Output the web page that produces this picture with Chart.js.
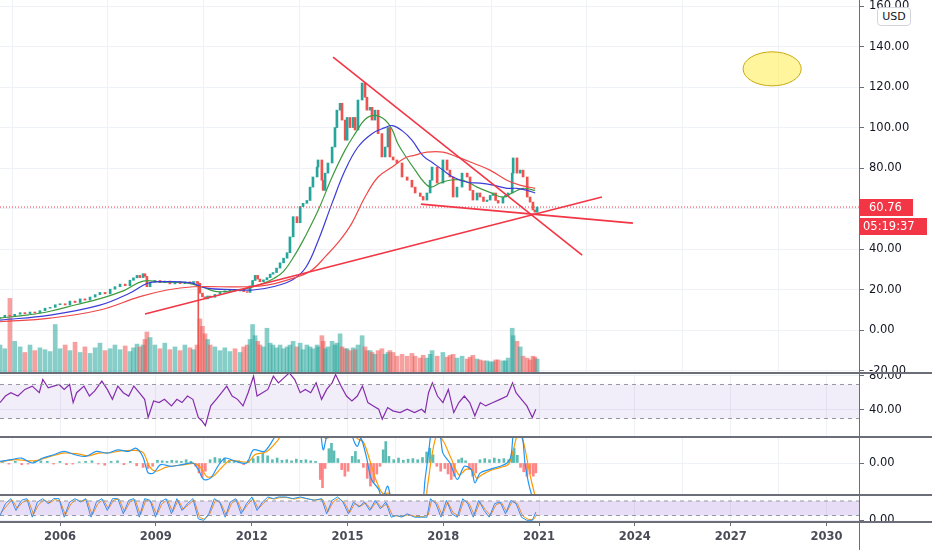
<!DOCTYPE html>
<html>
<head>
<meta charset="utf-8">
<script src="https://cdn.jsdelivr.net/npm/chart.js@4.4.1/dist/chart.umd.min.js"></script>
<style>
  body { margin: 0; background: #fff; }
  #wrap { position: relative; width: 932px; height: 550px; overflow: hidden; font-family: "DejaVu Sans", sans-serif; }
  canvas { position: absolute; left: 0; }
  .sep { position: absolute; left: 0; width: 932px; height: 2px; background: #6b6e78; }
  #vline { position: absolute; left: 859px; top: 0; width: 1px; height: 550px; background: #6b6e78; }
  #usd { position: absolute; left: 877px; top: 7px; width: 32px; height: 17px; border: 1px solid #d1d4dc; border-radius: 4px;
         background: #fff; font-size: 11px; color: #131722; text-align: center; line-height: 17px; }
</style>
</head>
<body>
<div id="wrap">
  <canvas id="main" width="932" height="373" style="top:0"></canvas>
  <canvas id="rsi" width="932" height="64" style="top:373px"></canvas>
  <canvas id="macd" width="932" height="58" style="top:437px"></canvas>
  <canvas id="stoch" width="932" height="27" style="top:495px"></canvas>
  <canvas id="axis" width="932" height="30" style="top:521px"></canvas>
  <div class="sep" style="top:372px"></div>
  <div class="sep" style="top:436px"></div>
  <div class="sep" style="top:494px"></div>
  <div class="sep" style="top:521px"></div>
  <div id="vline"></div>
  <div id="usd">USD</div>
</div>
<script>
// === DATOS ===
const yearTicks = [2006, 2009, 2012, 2015, 2018, 2021, 2024, 2027, 2030];
const priceTicks = [-20, 0, 20, 40, 60, 80, 100, 120, 140, 160];

// cierre aproximado [año, precio]
const closes = [
  [2004.12,6.2],[2004.27,7.3],[2004.43,7.0],[2004.58,7.8],[2004.75,8.6],[2004.90,8.1],[2005.06,8.9],[2005.21,8.4],[2005.37,9.6],[2005.53,10.8],
  [2005.69,11.2],[2005.85,12.5],[2006.00,13.0],[2006.16,12.4],[2006.31,14.3],[2006.47,13.6],[2006.63,15.4],[2006.78,14.8],[2006.94,16.3],[2007.10,17.5],
  [2007.25,18.6],[2007.41,17.9],[2007.57,20.2],[2007.72,21.4],[2007.88,22.7],[2008.04,21.9],[2008.19,24.6],[2008.30,25.8],[2008.41,27.0],[2008.50,25.9],
  [2008.60,27.8],[2008.66,26.5],[2008.72,21.4],[2008.82,23.6],[2008.97,24.5],[2009.13,23.4],[2009.28,24.2],[2009.44,22.8],[2009.60,23.9],[2009.76,22.9],
  [2009.91,23.8],[2010.07,23.2],[2010.18,24.0],[2010.29,23.1],[2010.38,18.2],[2010.46,16.4],[2010.54,15.4],[2010.62,16.8],[2010.70,16.2],[2010.85,17.6],
  [2011.01,18.7],[2011.16,19.4],[2011.32,20.1],[2011.48,19.3],[2011.64,20.2],[2011.75,19.0],[2011.86,18.6],[2011.95,21.8],[2012.03,24.5],[2012.11,27.0],
  [2012.19,25.2],[2012.26,23.9],[2012.37,24.8],[2012.48,25.9],[2012.58,27.6],[2012.67,28.4],[2012.78,30.6],[2012.89,33.2],[2013.00,35.5],[2013.11,38.2],
  [2013.20,46.0],[2013.30,56.0],[2013.42,53.0],[2013.52,61.0],[2013.61,62.6],[2013.73,64.0],[2013.83,70.6],[2013.92,75.6],[2014.05,80.5],[2014.08,84.0],
  [2014.20,74.0],[2014.24,69.0],[2014.30,77.5],[2014.39,82.5],[2014.52,90.4],[2014.61,100.0],[2014.67,108.6],[2014.77,112.0],[2014.83,103.7],[2014.93,93.8],
  [2014.99,105.0],[2015.08,100.0],[2015.18,105.0],[2015.24,98.8],[2015.33,113.6],[2015.46,122.0],[2015.55,115.0],[2015.61,108.6],[2015.71,110.0],[2015.77,103.7],
  [2015.86,108.6],[2015.96,97.0],[2016.08,85.5],[2016.18,90.4],[2016.27,100.0],[2016.33,85.5],[2016.43,84.0],[2016.55,82.5],[2016.71,75.6],[2016.87,74.0],
  [2017.02,70.6],[2017.12,67.7],[2017.28,66.0],[2017.37,64.2],[2017.49,67.7],[2017.59,74.0],[2017.65,80.5],[2017.81,72.6],[2017.99,84.0],[2018.12,79.0],
  [2018.21,75.6],[2018.31,65.7],[2018.43,70.6],[2018.59,77.5],[2018.75,75.6],[2018.84,69.0],[2018.93,64.2],[2019.06,67.7],[2019.15,65.7],[2019.26,63.5],
  [2019.37,64.2],[2019.47,66.5],[2019.56,67.7],[2019.64,64.0],[2019.72,62.7],[2019.87,65.7],[2019.95,66.5],[2020.03,67.7],[2020.16,77.5],[2020.19,85.0],
  [2020.31,77.5],[2020.41,79.0],[2020.50,75.6],[2020.63,65.7],[2020.72,63.2],[2020.81,59.3],[2020.87,58.2],[2020.94,60.76]
];
// volumen (mismo orden que closes)
const volumes = [
  30,26,80,34,28,22,30,24,27,25,
  23,52,26,30,24,33,22,28,21,27,
  32,24,26,30,25,29,23,27,31,28,
  30,36,44,38,30,26,32,25,28,24,
  30,27,25,30,58,50,42,36,30,28,
  24,27,23,26,22,28,30,36,52,40,
  34,30,28,48,32,30,27,30,26,28,
  30,34,28,32,25,30,28,26,30,28,
  40,34,26,28,34,30,32,42,28,26,
  26,24,27,25,30,40,28,24,24,22,
  20,24,26,20,22,24,22,18,20,18,
  21,18,16,19,16,20,24,18,22,17,
  19,20,16,18,15,17,19,15,14,13,
  13,12,12,14,14,13,13,16,48,40,
  34,28,18,16,14,18,17,15
];
// mechas sueltas [año, mínimo, máximo]
const wicks = [[2010.33, -25, 23.8]];

const maFast = [[2004.12,5.9],[2005.0,7.5],[2005.69,9.3],[2006.5,12.5],[2007.25,15.5],[2008.0,19.5],[2008.6,24.2],[2009.13,23.8],[2010.0,23.2],
  [2010.5,21.0],[2010.9,19.0],[2011.64,19.8],[2012.26,22.5],[2012.7,25.5],[2013.0,29],[2013.35,37],[2013.67,46],[2014.08,59],[2014.52,75.6],
  [2014.93,89],[2015.24,97],[2015.55,104],[2015.86,106],[2016.18,103.7],[2016.40,99],[2016.58,92],[2016.90,84],[2017.12,79],[2017.4,73],
  [2017.62,70.6],[2017.9,72.6],[2018.2,74],[2018.62,74],[2019.06,70.6],[2019.46,68],[2019.87,65.7],[2020.19,68],[2020.5,70],[2020.88,69]];
const maMid = [[2004.12,4.9],[2005.69,7.4],[2007.25,12.3],[2008.19,18.3],[2008.72,23.0],[2009.13,23.9],[2010.07,23.4],[2010.6,20.7],
  [2011.42,20.0],[2012.05,19.8],[2012.67,21.4],[2013.3,25],[2013.7,31],[2014.08,44],[2014.52,62.7],[2014.93,79],[2015.33,90.4],
  [2015.77,97],[2016.18,100],[2016.40,101],[2016.71,98.5],[2017.02,93.8],[2017.37,86],[2017.68,82.5],[2017.99,79],[2018.3,75.6],
  [2018.75,73],[2019.15,72.6],[2019.56,71.6],[2020.0,70],[2020.31,70],[2020.63,69],[2020.88,67.7]];
const maSlow = [[2004.12,4.1],[2005.69,5.9],[2007.25,9.9],[2008.5,16.5],[2009.35,19.8],[2010.17,21.4],[2011.0,21.4],[2011.86,21.4],
  [2012.48,22.2],[2013.11,24.7],[2013.83,29],[2014.35,37],[2014.77,44.4],[2015.14,52.8],[2015.55,65.7],[2015.96,75.6],[2016.40,80.5],
  [2016.8,85],[2017.12,86.4],[2017.49,87.9],[2017.99,87.9],[2018.43,85.5],[2018.93,82.5],[2019.46,79],[2019.99,74],[2020.4,71.6],[2020.88,70]];

// líneas de tendencia dibujadas [año, precio]
const trendLines = [
  [[2014.55,134.8],[2022.35,37.0]],
  [[2008.66,7.9],[2022.97,65.7]],
  [[2017.30,62.2],[2023.94,52.8]]
];
// elipse amarilla: centro [año, precio] y radios [años, precio]
const ellipseMark = [2028.3, 129, 0.91, 8.4];

const rsi = [[2004.12,48.7],[2004.29,56.4],[2004.46,60.3],[2004.68,56.4],[2004.9,64.2],[2005.13,68.1],[2005.35,60.3],[2005.46,75.8],
  [2005.63,66.1],[2005.8,68.1],[2005.97,70],[2006.13,64.2],[2006.3,70],[2006.41,48.7],[2006.52,60.3],[2006.75,68.1],[2006.92,56.4],
  [2007.08,62.2],[2007.31,73.9],[2007.48,64.2],[2007.64,52.5],[2007.81,68.1],[2007.98,60.3],[2008.15,56.4],[2008.31,68.1],[2008.48,60.3],
  [2008.65,52.5],[2008.76,31.2],[2008.93,50.6],[2009.1,48.7],[2009.27,52.5],[2009.49,44.8],[2009.66,52.5],[2009.82,48.7],[2009.99,56.4],
  [2010.16,52.5],[2010.33,31.2],[2010.44,27.3],[2010.55,21.5],[2010.72,44.8],[2010.89,52.5],[2011.06,60.3],[2011.22,68.1],[2011.39,56.4],
  [2011.56,52.5],[2011.73,44.8],[2011.89,60.3],[2012.06,79.7],[2012.17,56.4],[2012.34,60.3],[2012.51,64.2],[2012.68,79.7],[2012.84,71.9],
  [2013.01,77.8],[2013.18,83.6],[2013.35,75.8],[2013.52,60.3],[2013.68,64.2],[2013.85,60.3],[2014.02,71.9],[2014.19,52.5],[2014.35,64.2],
  [2014.52,71.9],[2014.63,81.6],[2014.8,68.1],[2014.97,56.4],[2015.14,50.6],[2015.31,56.4],[2015.47,68.1],[2015.64,48.7],[2015.81,44.8],
  [2015.98,40.9],[2016.09,29.3],[2016.26,42.8],[2016.42,39],[2016.65,37],[2016.87,40.9],[2017.1,37],[2017.32,40.9],[2017.43,37],
  [2017.54,60.3],[2017.66,71.9],[2017.82,56.4],[2017.99,48.7],[2018.16,64.2],[2018.33,37],[2018.49,48.7],[2018.66,56.4],[2018.83,48.7],
  [2018.99,33.1],[2019.16,48.7],[2019.33,44.8],[2019.56,48.7],[2019.78,52.5],[2020.0,56.4],[2020.17,71.9],[2020.28,60.3],[2020.45,52.5],
  [2020.62,44.8],[2020.79,31.2],[2020.9,40.9]];

const macdLine = [[2004.12,0.3],[2004.46,0.6],[2004.79,0.9],[2005.13,0],[2005.46,0.9],[2005.8,1.5],[2006.13,2.1],[2006.47,1.5],[2006.8,1.2],
  [2007.14,2.1],[2007.48,1.8],[2007.81,2.4],[2008.15,2.1],[2008.37,2.7],[2008.59,1.2],[2008.76,-1.8],[2008.93,-1.8],[2009.15,-0.3],[2009.49,-0.6],
  [2009.82,-0.3],[2010.16,0],[2010.33,-1.2],[2010.5,-3.0],[2010.72,-2.7],[2010.94,-0.6],[2011.17,0.9],[2011.5,0.3],[2011.84,0],[2012.06,2.4],
  [2012.4,2.1],[2012.73,4.8],[2013.07,7.9],[2013.63,11],[2014.08,7.9],[2014.24,2.4],[2014.35,4.8],[2014.58,7.9],[2015.03,7.9],[2015.19,4.2],
  [2015.31,3.0],[2015.42,4.5],[2015.59,1.2],[2015.75,-3.0],[2015.98,-4.8],[2016.09,-6.7],[2016.26,-4.2],[2016.42,-7.3],[2016.87,-8.5],
  [2017.32,-7.3],[2017.43,-3.0],[2017.54,1.8],[2017.66,6.1],[2017.88,5.5],[2017.99,1.8],[2018.21,0],[2018.44,-3.0],[2018.66,-0.6],
  [2018.88,-1.2],[2018.99,-3.6],[2019.16,-1.8],[2019.44,-1.2],[2019.78,-0.6],[2020.0,0],[2020.12,1.2],[2020.23,6.1],[2020.45,5.5],
  [2020.56,0],[2020.67,-3.6],[2020.84,-7.3]];
const macdSignal = [[2004.12,0.2],[2004.6,0.6],[2005.0,0.4],[2005.3,0.5],[2005.7,1.2],[2006.1,1.8],[2006.5,1.7],[2006.9,1.3],[2007.2,1.8],
  [2007.6,1.9],[2007.9,2.2],[2008.3,2.3],[2008.6,1.9],[2008.8,-0.6],[2009.0,-1.5],[2009.3,-0.8],[2009.6,-0.5],[2009.9,-0.3],[2010.2,-0.1],
  [2010.4,-0.8],[2010.6,-2.5],[2010.8,-2.4],[2011.0,-1.2],[2011.3,0.4],[2011.6,0.3],[2011.9,0.2],[2012.1,1.5],[2012.45,2.0],[2012.8,4.0],
  [2013.1,6.5],[2013.6,10],[2014.1,8.5],[2014.3,4.5],[2014.45,4.8],[2014.7,7.5],[2015.1,7.5],[2015.3,4.5],[2015.5,3.8],[2015.7,0.5],
  [2015.9,-3.2],[2016.1,-5.5],[2016.3,-5.5],[2016.5,-7],[2016.9,-8.3],[2017.4,-7.5],[2017.5,-4.5],[2017.65,1.5],[2017.8,5.0],[2018.0,4.0],
  [2018.25,0.8],[2018.5,-2.2],[2018.7,-1.2],[2018.9,-1.2],[2019.05,-2.8],[2019.2,-2.2],[2019.5,-1.3],[2019.8,-0.8],[2020.05,-0.2],
  [2020.2,2.5],[2020.35,5.5],[2020.5,4.0],[2020.62,0.8],[2020.75,-3.0],[2020.9,-6.5]];
const macdHist = [[2004.2,0.2],[2004.4,-0.2],[2004.6,0.3],[2004.8,-0.3],[2005.0,-0.2],[2005.2,0.3],[2005.4,0.4],[2005.6,0.3],[2005.8,-0.2],
  [2006.0,0.3],[2006.2,-0.3],[2006.4,-0.2],[2006.6,0.2],[2006.8,0.3],[2007.0,0.4],[2007.2,-0.2],[2007.4,-0.4],[2007.6,0.3],[2007.8,0.4],
  [2008.0,-0.3],[2008.2,0.3],[2008.4,-0.5],[2008.6,-0.8],[2008.75,-1.0],[2008.9,-0.6],[2009.05,0.5],[2009.2,0.4],[2009.35,0.3],[2009.5,0.5],
  [2009.65,0.4],[2009.8,0.3],[2009.95,0.6],[2010.1,0.3],[2010.25,-0.6],[2010.35,-1.8],[2010.45,-2.6],[2010.55,-1.5],[2010.7,0.6],[2010.85,1.0],
  [2011.0,0.8],[2011.15,0.9],[2011.3,0.5],[2011.45,0.3],[2011.6,0.4],[2011.75,-0.3],[2011.9,0.5],[2012.05,0.8],[2012.2,1.2],[2012.35,1.8],
  [2012.5,1.3],[2012.65,0.6],[2012.8,0.9],[2012.95,0.5],[2013.1,0.6],[2013.25,0.4],[2013.4,0.7],[2013.55,0.5],[2013.7,0.6],[2013.85,0.4],
  [2014.0,0.3],[2014.15,-3.0],[2014.22,-4.5],[2014.3,-1.0],[2014.42,2.6],[2014.5,3.6],[2014.58,2.2],[2014.7,0.8],[2014.82,-1.2],[2014.92,-2.4],
  [2015.02,-1.5],[2015.15,1.2],[2015.25,2.1],[2015.35,0.6],[2015.5,-0.8],[2015.62,-2.8],[2015.72,-4.2],[2015.82,-3.5],[2015.92,-2.0],
  [2016.02,-0.6],[2016.12,2.4],[2016.2,3.9],[2016.3,1.2],[2016.45,0.6],[2016.6,0.9],[2016.75,0.5],[2016.9,0.7],[2017.05,0.8],[2017.2,0.6],
  [2017.35,1.0],[2017.48,2.0],[2017.58,2.7],[2017.68,1.5],[2017.8,-0.6],[2017.92,-1.5],[2018.05,-1.0],[2018.15,-2.0],[2018.25,-3.0],
  [2018.35,-2.4],[2018.48,0.6],[2018.58,0.9],[2018.7,0.4],[2018.82,-1.2],[2018.92,-2.4],[2019.02,-1.8],[2019.15,0.6],[2019.3,0.8],
  [2019.45,0.6],[2019.6,0.9],[2019.75,0.7],[2019.9,0.8],[2020.05,0.6],[2020.15,1.5],[2020.22,2.7],[2020.32,1.4],[2020.42,-0.8],
  [2020.52,-1.6],[2020.62,-2.4],[2020.72,-2.0],[2020.82,-2.4],[2020.9,-1.8]];

const stochK = [[2004.12,20],[2004.29,68.8],[2004.46,89.8],[2004.62,40.9],[2004.79,82.8],[2004.96,89.8],[2005.13,13],[2005.29,75.8],
  [2005.46,89.8],[2005.63,68.8],[2005.8,89.8],[2005.97,89.8],[2006.13,13],[2006.3,75.8],[2006.47,89.8],[2006.64,75.8],[2006.8,89.8],
  [2006.97,13],[2007.14,75.8],[2007.31,89.8],[2007.48,40.9],[2007.64,89.8],[2007.81,89.8],[2007.98,27],[2008.15,82.8],[2008.31,89.8],
  [2008.48,13],[2008.65,89.8],[2008.82,82.8],[2008.99,13],[2009.15,75.8],[2009.32,89.8],[2009.49,27],[2009.66,89.8],[2009.82,40.9],
  [2009.99,68.8],[2010.16,89.8],[2010.33,6],[2010.5,0],[2010.66,27],[2010.83,89.8],[2011.0,75.8],[2011.17,13],[2011.33,75.8],[2011.5,89.8],
  [2011.67,27],[2011.84,68.8],[2012.01,96.7],[2012.17,40.9],[2012.34,75.8],[2012.51,96.7],[2012.68,89.8],[2012.84,96.7],[2013.07,96.7],
  [2013.29,89.8],[2013.52,96.7],[2013.74,89.8],[2013.96,82.8],[2014.19,89.8],[2014.35,27],[2014.52,82.8],[2014.69,96.7],[2014.86,75.8],
  [2015.03,27],[2015.19,75.8],[2015.36,54.9],[2015.53,75.8],[2015.7,40.9],[2015.87,82.8],[2016.03,47.9],[2016.2,75.8],[2016.37,13],
  [2016.54,20],[2016.7,13],[2016.87,27],[2017.1,13],[2017.32,13],[2017.49,13],[2017.6,89.8],[2017.77,68.8],[2017.93,13],[2018.1,82.8],
  [2018.27,27],[2018.44,13],[2018.61,89.8],[2018.77,68.8],[2018.94,13],[2019.11,82.8],[2019.28,40.9],[2019.44,13],[2019.61,68.8],
  [2019.78,75.8],[2019.95,27],[2020.12,82.8],[2020.28,68.8],[2020.45,13],[2020.62,0],[2020.79,0],[2020.9,34]];
const stochD = [[2004.15,30],[2004.33,60],[2004.5,85],[2004.66,50],[2004.83,75],[2005.0,85],[2005.17,25],[2005.33,65],[2005.5,85],
  [2005.67,72],[2005.84,86],[2006.0,80],[2006.17,22],[2006.34,68],[2006.51,86],[2006.68,78],[2006.84,86],[2007.01,22],[2007.18,68],
  [2007.35,86],[2007.52,48],[2007.68,84],[2007.85,88],[2008.02,35],[2008.19,76],[2008.35,86],[2008.52,22],[2008.69,84],[2008.86,76],
  [2009.03,22],[2009.19,68],[2009.36,86],[2009.53,35],[2009.7,84],[2009.86,46],[2010.03,66],[2010.2,84],[2010.37,12],[2010.54,4],
  [2010.7,30],[2010.87,84],[2011.04,70],[2011.21,20],[2011.37,70],[2011.54,86],[2011.71,34],[2011.88,66],[2012.05,90],[2012.21,48],
  [2012.38,72],[2012.55,92],[2012.72,88],[2012.88,94],[2013.1,94],[2013.33,88],[2013.56,94],[2013.78,88],[2014.0,84],[2014.23,86],
  [2014.39,35],[2014.56,78],[2014.73,92],[2014.9,74],[2015.07,32],[2015.23,70],[2015.4,58],[2015.57,72],[2015.74,46],[2015.91,78],
  [2016.07,52],[2016.24,70],[2016.41,20],[2016.58,18],[2016.74,16],[2016.91,24],[2017.14,16],[2017.36,15],[2017.53,22],[2017.64,84],
  [2017.81,70],[2017.97,20],[2018.14,76],[2018.31,32],[2018.48,18],[2018.65,84],[2018.81,70],[2018.98,20],[2019.15,76],[2019.32,44],
  [2019.48,20],[2019.65,64],[2019.82,74],[2019.99,34],[2020.16,78],[2020.32,70],[2020.49,18],[2020.66,4],[2020.83,3],[2020.93,25]];

// === CONFIGURACIÓN COMÚN ===
const X_MIN = 2004.12, X_MAX = 2031.02;
const GRID = "#eef1f6";
const AXIS = "#6b6e78";
const FONT = "DejaVu Sans";
const UP = "#26a69a", DOWN = "#ef5350";
const lastClose = closes[closes.length - 1][1];

function timeScale(withLabels) {
  return {
    type: "linear", min: X_MIN, max: X_MAX, offset: false,
    afterBuildTicks: s => { s.ticks = yearTicks.map(v => ({ value: v })); },
    grid: { color: GRID, drawOnChartArea: !withLabels, drawTicks: withLabels, tickLength: 4, tickColor: AXIS },
    border: { display: false },
    ticks: { display: withLabels, autoSkip: false, maxRotation: 0, padding: 4, color: "#4a4d57",
             font: { family: FONT, size: 11.5, weight: "bold" }, callback: v => String(v) },
    afterFit: s => { s.height = withLabels ? 29 : 0; s.paddingLeft = 0; s.paddingRight = 0; }
  };
}

function valueScale(min, max, ticks) {
  return {
    type: "linear", position: "right", min, max,
    afterBuildTicks: s => { s.ticks = ticks.map(v => ({ value: v })); },
    grid: { color: GRID, drawTicks: true, tickLength: 5, tickColor: AXIS },
    border: { display: false },
    ticks: { padding: 5, color: "#131722", font: { family: FONT, size: 11.5 }, callback: v => v.toFixed(2) },
    afterFit: s => { s.width = 73; s.paddingTop = 0; s.paddingBottom = 0; }
  };
}

const baseOptions = (yScale, extra) => ({
  responsive: false, animation: false, events: [],
  layout: { padding: 0 },
  plugins: { legend: { display: false }, tooltip: { enabled: false } },
  scales: Object.assign({ x: timeScale(false), y: yScale }, extra || {})
});

const pts = arr => arr.map(p => ({ x: p[0], y: p[1] }));
const lineDs = (data, color, width) => ({
  type: "line", data: pts(data), borderColor: color, borderWidth: width || 1,
  pointRadius: 0, tension: 0, fill: false
});
const bandDs = (v, fillColor) => ({
  type: "line", data: [{ x: X_MIN, y: v }, { x: X_MAX, y: v }], borderColor: "#9598a1", borderWidth: 1,
  borderDash: [4, 4], pointRadius: 0, fill: fillColor ? "-1" : false, backgroundColor: fillColor || "transparent"
});

// === GRÁFICO PRINCIPAL ===
const candleData = closes.map((c, i) => ({ x: c[0], y: [i ? closes[i - 1][1] : c[1] - 0.3, c[1]] }));
const candleColors = closes.map((c, i) => (i && c[1] < closes[i - 1][1]) ? DOWN : UP);
const volData = closes.map((c, i) => ({ x: c[0], y: volumes[i] || 0 }));
const volColors = candleColors.map(c => c === UP ? "rgba(38,166,154,0.55)" : "rgba(239,83,80,0.55)");

const overlay = {
  id: "overlay",
  afterDatasetsDraw(chart) {
    const { ctx, scales: { x, y } } = chart;
    const cx = x.getPixelForValue(ellipseMark[0]), cy = y.getPixelForValue(ellipseMark[1]);
    const rx = x.getPixelForValue(ellipseMark[0] + ellipseMark[2]) - cx;
    const ry = cy - y.getPixelForValue(ellipseMark[1] + ellipseMark[3]);
    ctx.save();
    ctx.beginPath();
    ctx.ellipse(cx, cy, rx, ry, 0, 0, Math.PI * 2);
    ctx.fillStyle = "rgba(255,235,59,0.5)";
    ctx.fill();
    ctx.strokeStyle = "#c9a80f";
    ctx.lineWidth = 1;
    ctx.stroke();
    ctx.restore();
  },
  afterDraw(chart) {
    const { ctx, scales: { y }, chartArea } = chart;
    const py = Math.round(y.getPixelForValue(lastClose));
    const left = chartArea.right;
    ctx.save();
    ctx.fillStyle = "#f23645";
    ctx.fillRect(left, py - 8, 54, 17);
    ctx.fillRect(left, py + 11, 68, 17);
    ctx.fillStyle = "#fff";
    ctx.font = "11.5px " + FONT;
    ctx.textBaseline = "middle";
    ctx.fillText(lastClose.toFixed(2), left + 10, py + 1);
    ctx.fillText("05:19:37", left + 4, py + 20);
    ctx.restore();
  }
};

new Chart(document.getElementById("main"), {
  type: "line",
  data: {
    datasets: [
      { type: "bar", yAxisID: "vol", data: volData, backgroundColor: volColors, barThickness: 4, grouped: false, order: 10 },
      { type: "bar", data: candleData, backgroundColor: candleColors, barThickness: 2, grouped: false, order: 6 },
      { type: "bar", data: wicks.map(w => ({ x: w[0], y: [w[1], w[2]] })), backgroundColor: DOWN, barThickness: 1, grouped: false, order: 7 },
      Object.assign(lineDs(maSlow, "#f04848", 1.2), { tension: 0.4, order: 4 }),
      Object.assign(lineDs(maMid, "#3c3cd8", 1.2), { tension: 0.4, order: 4 }),
      Object.assign(lineDs(maFast, "#3f9a3f", 1.2), { tension: 0.4, order: 4 }),
      ...trendLines.map(t => Object.assign(lineDs(t, "#f23645", 1.6), { order: 2 })),
      Object.assign(lineDs([[X_MIN, lastClose], [X_MAX, lastClose]], "#f23645", 1), { borderDash: [1, 2], order: 1 })
    ]
  },
  options: baseOptions(valueScale(-21.2, 163, priceTicks), {
    vol: { type: "linear", display: false, min: 0, max: 400 }
  }),
  plugins: [overlay]
});

// === RSI ===
new Chart(document.getElementById("rsi"), {
  type: "line",
  data: {
    datasets: [
      bandDs(70),
      bandDs(30, "rgba(149,117,205,0.13)"),
      lineDs(rsi, "#8424a8", 1.2)
    ]
  },
  options: baseOptions(valueScale(8.2, 83.5, [40, 80]))
});

// === MACD ===
new Chart(document.getElementById("macd"), {
  type: "line",
  data: {
    datasets: [
      { type: "bar", data: pts(macdHist), barThickness: 2, grouped: false, order: 5,
        backgroundColor: macdHist.map(h => h[1] >= 0 ? "rgba(38,166,154,0.75)" : "rgba(255,82,82,0.7)") },
      Object.assign(lineDs(macdSignal, "#ff9800", 1.2), { tension: 0.3, order: 2 }),
      Object.assign(lineDs(macdLine, "#2196f3", 1.2), { tension: 0.3, order: 1 })
    ]
  },
  options: baseOptions(valueScale(-5.82, 4.73, [0]))
});

// === ESTOCÁSTICO ===
new Chart(document.getElementById("stoch"), {
  type: "line",
  data: {
    datasets: [
      bandDs(80),
      bandDs(20, "rgba(149,100,220,0.22)"),
      lineDs(stochK, "#2196f3", 1),
      lineDs(stochD, "#ff9800", 1)
    ]
  },
  options: baseOptions(valueScale(-6.9, 104.8, [0]))
});

// === EJE DE TIEMPO ===
new Chart(document.getElementById("axis"), {
  type: "line",
  data: { datasets: [] },
  options: baseOptions({
    type: "linear", position: "right", min: 0, max: 1,
    grid: { display: false }, border: { display: false }, ticks: { display: false },
    afterFit: s => { s.width = 73; s.paddingTop = 0; s.paddingBottom = 0; }
  }, { x: timeScale(true) })
});
</script>
</body>
</html>
